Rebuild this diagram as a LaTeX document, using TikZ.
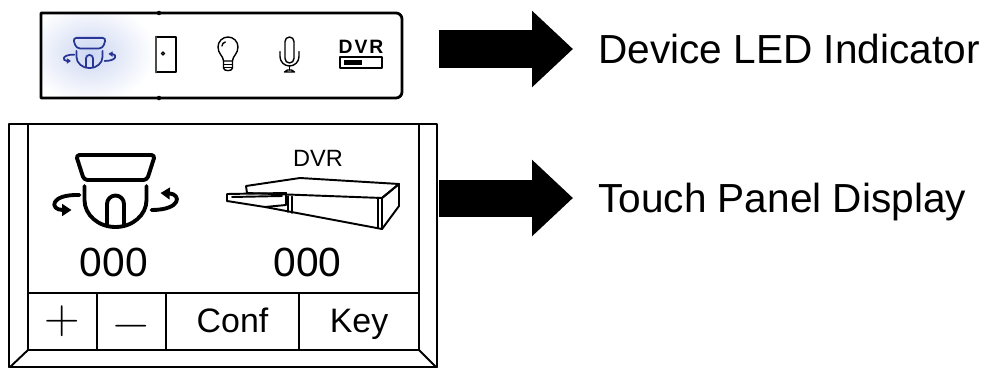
\documentclass[tikz,border=0pt]{standalone}
\usepackage{fontspec}
\usepackage{tikz}
\usetikzlibrary{arrows.meta}
\newfontfamily\arial{Liberation Sans}
\definecolor{camblue}{RGB}{40,55,150}
\definecolor{camglow}{RGB}{205,215,242}

\tikzset{
  pxgrid/.style={x=0.02cm,y=-0.02cm},
  sidetext/.style={anchor=west,inner sep=0pt,text depth=0pt,font=\arial\fontsize{23.1}{26}\selectfont},
  counter/.style={inner sep=0pt,text depth=0pt,font=\arial\fontsize{23.2}{26}\selectfont},
  btntext/.style={inner sep=0pt,text depth=0pt,font=\arial\fontsize{19.3}{22}\selectfont},
  signtext/.style={inner sep=0pt,text height=14pt,text depth=0pt,font=\fontsize{28}{28}\selectfont},
  bigarrow/.style={line width=0.74cm,-{Triangle[length=0.82cm,width=1.48cm]}},
  % dome camera with pan arrows
  ptzcam/.pic={
    \draw[rounded corners=2pt] (-39.5,-36) -- (39.5,-36) -- (31.5,-11) -- (-31.5,-11) -- cycle;
    \draw (-31,-5) -- (-31,9) arc[start angle=180,end angle=0,x radius=31,y radius=27] -- (31,-5);
    \draw (-8.5,34.5) -- (-8.5,13) arc[start angle=180,end angle=360,radius=8.5] -- (8.5,34.5);
    \draw[-{Triangle[length=0pt 2.4,width=0pt 3]}] (-36,4) .. controls (-66,3) and (-66,19) .. (-44,19);
    \draw[-{Triangle[length=0pt 2.4,width=0pt 3]}] (36,19) .. controls (66,19) and (66,3) .. (45,2);
  },
  % recorder with open tray
  dvrbox/.pic={
    \draw (-86,-11) -- (-27,-12) -- (-27,0) -- (-48,2) -- (-86,-4) -- cycle;
    \draw (-81,-8) -- (-31,-9);
    \draw (-67,-19) -- (-13,-27) -- (86,-21) -- (69,-7) -- (-66,-12) -- cycle;
    \draw (69,-7) -- (69,24) -- (-48,2);
    \draw (69,-7) -- (86,-21) -- (86,1) -- (69,24);
    \draw (-25,-9) -- (-25,7) (-21,-8.5) -- (-21,8);
    \draw (65,-7.5) -- (65,23);
  },
  door/.pic={
    \draw (-10,-17.5) rectangle (10,17.5);
    \draw[line width=1.6pt,black!70] (-10,-17.5) -- (-10,17.5);
    \draw (-3,-1) circle (1.6);
  },
  bulb/.pic={
    \draw (-4.5,7) .. controls (-4.5,2) and (-10,0) .. (-10,-7) arc[start angle=180,end angle=360,radius=10] .. controls (10,0) and (4.5,2) .. (4.5,7);
    \draw (-4.5,7) -- (-4.5,14) .. controls (-4.5,17.5) and (4.5,17.5) .. (4.5,14) -- (4.5,7) -- cycle;
    \draw (-4.5,10.5) -- (4.5,10.5) (-4.5,13.5) -- (4.5,13.5);
    \draw (-6,-8) arc[start angle=180,end angle=260,radius=4];
  },
  mic/.pic={
    \draw (-4.5,4) -- (-4.5,-13) arc[start angle=180,end angle=360,radius=4.5] -- (4.5,4) arc[start angle=0,end angle=180,radius=4.5] -- cycle;
    \draw (-9.5,-3) -- (-9.5,2) arc[start angle=180,end angle=0,radius=9.5] -- (9.5,-3);
    \draw (0,11.5) -- (0,15.5);
    \draw (-5,17.5) -- (-2,15.5) -- (2,15.5) -- (5,17.5) -- cycle;
  }
}

\begin{document}
\begin{tikzpicture}[line cap=round,line join=round]
\useasboundingbox (0cm,0cm) rectangle (19.68cm,-7.36cm);

% LED indicator bar
\begin{scope}
\clip (0.82cm,-0.26cm) rectangle (8.04cm,-1.96cm);
\shade[inner color=camglow,outer color=white] (1.80cm,-1.06cm) ellipse (1.3cm and 1.0cm);
\end{scope}
\draw[line width=1.6pt] (0.82cm,-0.26cm) -- (7.92cm,-0.26cm) arc[start angle=90,end angle=0,radius=0.12cm] -- (8.04cm,-1.84cm) arc[start angle=0,end angle=-90,radius=0.12cm] -- (0.82cm,-1.96cm) -- cycle;
\fill (3.18cm,-0.26cm) circle (0.045cm) (3.18cm,-1.96cm) circle (0.045cm);

\pic[pxgrid,scale=0.42,camblue,line width=1pt] at (1.79cm,-1.06cm) {ptzcam};
\pic[pxgrid,line width=0.7pt] at (3.32cm,-1.09cm) {door};
\pic[pxgrid,line width=0.8pt] at (4.56cm,-1.08cm) {bulb};
\pic[pxgrid,line width=0.8pt] at (5.79cm,-1.09cm) {mic};
\node[inner sep=0pt,font=\arial\bfseries\fontsize{11}{12}\selectfont\addfontfeature{LetterSpace=10}] (dvrtag) at (7.22cm,-0.94cm) {DVR};
\draw[line width=1pt] (6.80cm,-1.14cm) rectangle (7.64cm,-1.36cm);
\fill (6.88cm,-1.20cm) rectangle (7.24cm,-1.29cm);

% labels and pointers
\coordinate (ledtail) at (8.78cm,-0.98cm);
\node[sidetext] (ledtxt) at (11.96cm,-0.98cm) {Device LED Indicator};
\draw[bigarrow,line cap=butt,line join=miter] (ledtail) -- ([xshift=-0.5cm]ledtxt.west);

\coordinate (paneltail) at (8.78cm,-3.96cm);
\node[sidetext] (paneltxt) at (11.96cm,-3.96cm) {Touch Panel Display};
\draw[bigarrow,line cap=butt,line join=miter] (paneltail) -- ([xshift=-0.5cm]paneltxt.west);

% touch panel frame
\draw[line width=1.1pt] (0.18cm,-2.48cm) rectangle (8.74cm,-7.34cm);
\draw[line width=1.1pt] (0.56cm,-2.48cm) -- (0.56cm,-7.00cm) -- (8.38cm,-7.00cm) -- (8.38cm,-2.48cm);
\draw[line width=1.1pt] (0.56cm,-7.00cm) -- (0.18cm,-7.36cm);
\draw[line width=1.1pt] (8.38cm,-7.00cm) -- (8.74cm,-7.36cm);

% buttons
\draw[line width=1.1pt] (0.56cm,-5.86cm) -- (8.38cm,-5.86cm);
\draw[line width=1.1pt] (1.94cm,-5.86cm) -- (1.94cm,-7.00cm);
\draw[line width=1.1pt] (3.32cm,-5.86cm) -- (3.32cm,-7.00cm);
\draw[line width=1.1pt] (5.98cm,-5.86cm) -- (5.98cm,-7.00cm);
\node[signtext] (plusbtn) at (1.25cm,-6.43cm) {+};
\node[signtext] (minusbtn) at (2.63cm,-6.52cm) {−};
\node[btntext] (confbtn) at (4.65cm,-6.41cm) {Conf};
\node[btntext] (keybtn) at (7.18cm,-6.41cm) {Key};

% devices and counters
\pic[pxgrid,line width=2.2pt] at (2.31cm,-3.82cm) {ptzcam};
\pic[pxgrid,line width=1.1pt] at (6.26cm,-4.10cm) {dvrbox};
\node[inner sep=0pt,font=\arial\fontsize{13.4}{15}\selectfont] (dvrname) at (6.36cm,-3.17cm) {DVR};
\node[counter] (camcount) at (2.28cm,-5.25cm) {000};
\node[counter] (dvrcount) at (6.15cm,-5.25cm) {000};

\end{tikzpicture}
\end{document}
